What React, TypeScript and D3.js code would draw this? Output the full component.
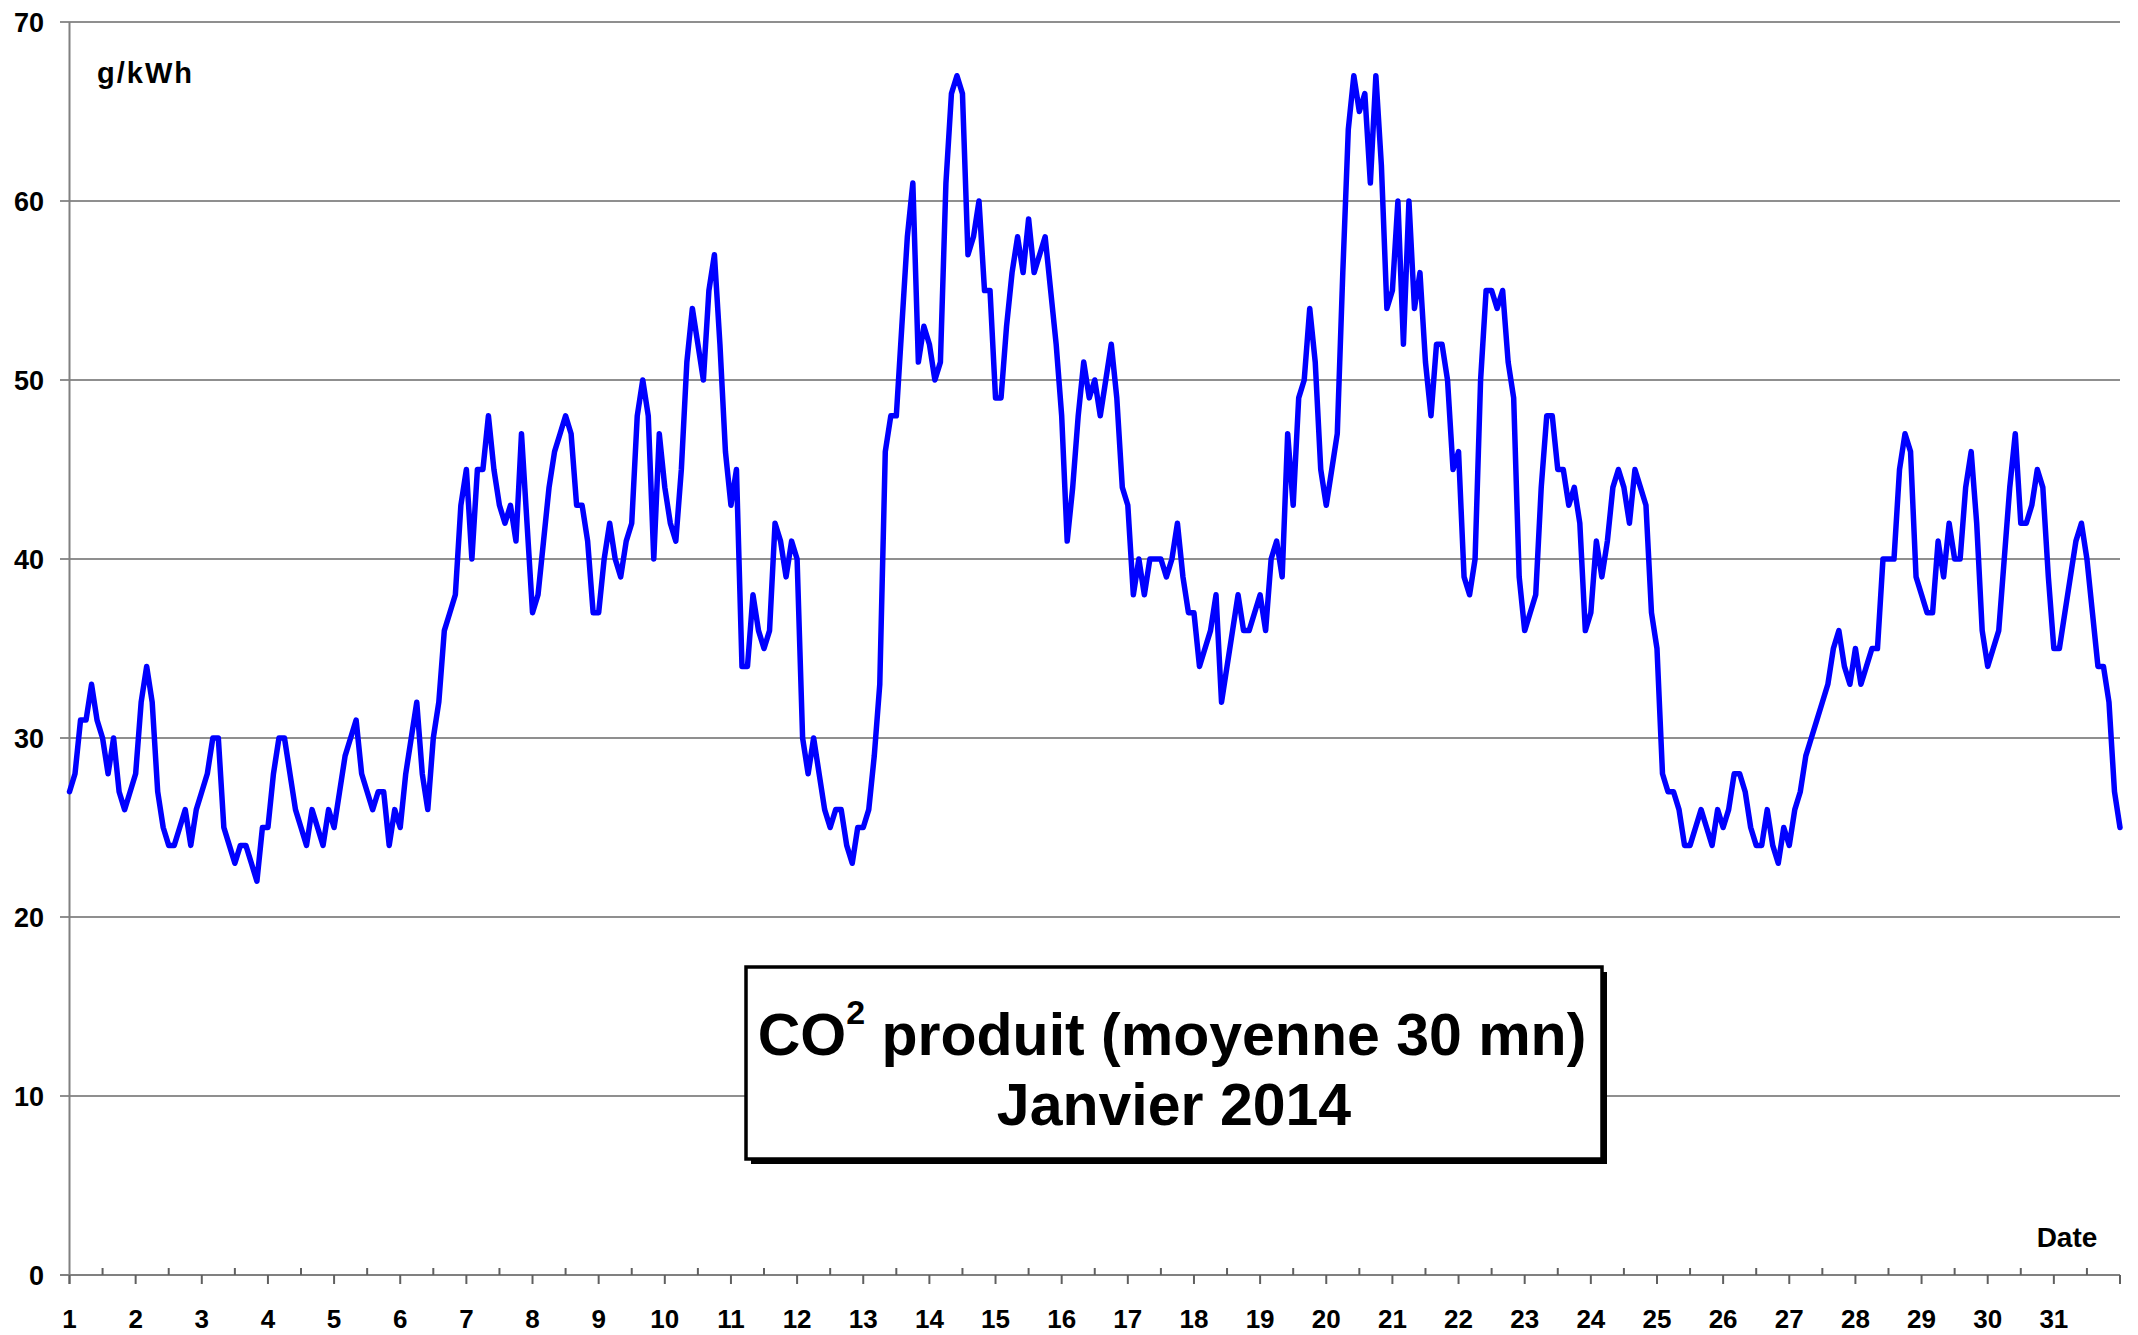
import React from 'react';
import * as d3 from 'd3';

// CO2 produit (g/kWh), samples every 2 hours, January 2014
const stepHours = 2;

const week1 = [
  27, 28, 31, 31, 33, 31, 30, 28, 30, 27, 26, 27, // 1
  28, 32, 34, 32, 27, 25, 24, 24, 25, 26, 24, 26, // 2
  27, 28, 30, 30, 25, 24, 23, 24, 24, 23, 22, 25, // 3
  25, 28, 30, 30, 28, 26, 25, 24, 26, 25, 24, 26, // 4
  25, 27, 29, 30, 31, 28, 27, 26, 27, 27, 24, 26, // 5
  25, 28, 30, 32, 28, 26, 30, 32, 36, 37, 38, 43, // 6
  45, 40, 45, 45, 48, 45, 43, 42, 43, 41, 47, 42, // 7
];
const week2 = [
  37, 38, 41, 44, 46, 47, 48, 47, 43, 43, 41, 37, // 8
  37, 40, 42, 40, 39, 41, 42, 48, 50, 48, 40, 47, // 9
  44, 42, 41, 45, 51, 54, 52, 50, 55, 57, 52, 46, // 10
  43, 45, 34, 34, 38, 36, 35, 36, 42, 41, 39, 41, // 11
  40, 30, 28, 30, 28, 26, 25, 26, 26, 24, 23, 25, // 12
  25, 26, 29, 33, 46, 48, 48, 53, 58, 61, 51, 53, // 13
  52, 50, 51, 61, 66, 67, 66, 57, 58, 60, 55, 55, // 14
];
const week3 = [
  49, 49, 53, 56, 58, 56, 59, 56, 57, 58, 55, 52, // 15
  48, 41, 44, 48, 51, 49, 50, 48, 50, 52, 49, 44, // 16
  43, 38, 40, 38, 40, 40, 40, 39, 40, 42, 39, 37, // 17
  37, 34, 35, 36, 38, 32, 34, 36, 38, 36, 36, 37, // 18
  38, 36, 40, 41, 39, 47, 43, 49, 50, 54, 51, 45, // 19
  43, 45, 47, 56, 64, 67, 65, 66, 61, 67, 62, 54, // 20
  55, 60, 52, 60, 54, 56, 51, 48, 52, 52, 50, 45, // 21
];
const week4 = [
  46, 39, 38, 40, 50, 55, 55, 54, 55, 51, 49, 39, // 22
  36, 37, 38, 44, 48, 48, 45, 45, 43, 44, 42, 36, // 23
  37, 41, 39, 41, 44, 45, 44, 42, 45, 44, 43, 37, // 24
  35, 28, 27, 27, 26, 24, 24, 25, 26, 25, 24, 26, // 25
  25, 26, 28, 28, 27, 25, 24, 24, 26, 24, 23, 25, // 26
  24, 26, 27, 29, 30, 31, 32, 33, 35, 36, 34, 33, // 27
  35, 33, 34, 35, 35, 40, 40, 40, 45, 47, 46, 39, // 28
];
const week5 = [
  38, 37, 37, 41, 39, 42, 40, 40, 44, 46, 42, 36, // 29
  34, 35, 36, 40, 44, 47, 42, 42, 43, 45, 44, 39, // 30
  35, 35, 37, 39, 41, 42, 40, 37, 34, 34, 32, 27, // 31
  25,
];

const dayLabels = d3.range(1, 32).map(String);
const yTicks = [0, 10, 20, 30, 40, 50, 60, 70];
const unitLabel = 'g/kWh';
const xAxisLabel = 'Date';
const titleMain = 'CO';
const titleSup = '2';
const titleRest = ' produit (moyenne 30 mn)';
const titleLine2 = 'Janvier 2014';

const FONT = "'Liberation Sans', Arial, Helvetica, sans-serif";

export default function App() {
  const W = 2138;
  const H = 1335;
  const values = [...week1, ...week2, ...week3, ...week4, ...week5];

  const x = d3.scaleLinear().domain([0, 31]).range([69.5, 2120]);
  const y = d3.scaleLinear().domain([0, 70]).range([1275, 22]);

  const line = d3
    .line<number>()
    .x((_, i) => x((i * stepHours) / 24))
    .y((d) => y(d));

  const majorTicks = d3.range(0, 32);
  const minorTicks = d3.range(0, 31).map((d) => d + 0.5);

  return (
    <svg
      width={W}
      height={H}
      viewBox={`0 0 ${W} ${H}`}
      style={{ position: 'absolute', left: 0, top: 0, display: 'block', background: '#fff' }}
      fontFamily={FONT}
    >
      <rect x={0} y={0} width={W} height={H} fill="#fff" />
      {/* gridlines */}
      {yTicks.filter((t) => t > 0).map((t) => (
        <line key={t} x1={60} x2={2120} y1={y(t)} y2={y(t)} stroke="#6a6a6a" strokeWidth={1.3} />
      ))}
      {/* axes */}
      <line x1={69.5} x2={69.5} y1={y(70)} y2={1284} stroke="#808080" strokeWidth={2} />
      <line x1={60} x2={2120} y1={y(0)} y2={y(0)} stroke="#808080" strokeWidth={2} />
      {majorTicks.map((d) => (
        <line key={'M' + d} x1={x(d)} x2={x(d)} y1={y(0)} y2={1284} stroke="#606060" strokeWidth={2} />
      ))}
      {minorTicks.map((d) => (
        <line key={'m' + d} x1={x(d)} x2={x(d)} y1={y(0)} y2={1268} stroke="#606060" strokeWidth={2} />
      ))}
      {/* y tick labels */}
      {yTicks.map((t) => (
        <text key={'yl' + t} x={44} y={y(t)} dy="0.36em" textAnchor="end" fontSize={27} fontWeight="bold" fill="#000">
          {t}
        </text>
      ))}
      {/* x tick labels */}
      {dayLabels.map((lab, i) => (
        <text key={'xl' + i} x={x(i)} y={1328} textAnchor="middle" fontSize={26} fontWeight="bold" fill="#000">
          {lab}
        </text>
      ))}
      <text x={97} y={83} fontSize={29} fontWeight="bold" letterSpacing={2} fill="#000">
        {unitLabel}
      </text>
      <text x={2067} y={1247} textAnchor="middle" fontSize={28} fontWeight="bold" fill="#000">
        {xAxisLabel}
      </text>

      {/* data line */}
      <path
        d={line(values) || ''}
        fill="none"
        stroke="#0000ff"
        strokeWidth={5.5}
        strokeLinejoin="round"
        strokeLinecap="round"
      />

      {/* title box */}
      <rect x={751} y={972} width={856} height={192} fill="#000" />
      <rect x={746} y={967} width={856} height={192} fill="#fff" stroke="#000" strokeWidth={3.5} />
      <text x={1172} y={1055} textAnchor="middle" fontSize={59} fontWeight="bold" fill="#000">
        {titleMain}
        <tspan fontSize={34} dy={-31}>{titleSup}</tspan>
        <tspan dy={31}>{titleRest}</tspan>
      </text>
      <text x={1174} y={1125} textAnchor="middle" fontSize={59} fontWeight="bold" fill="#000">
        {titleLine2}
      </text>
    </svg>
  );
}
